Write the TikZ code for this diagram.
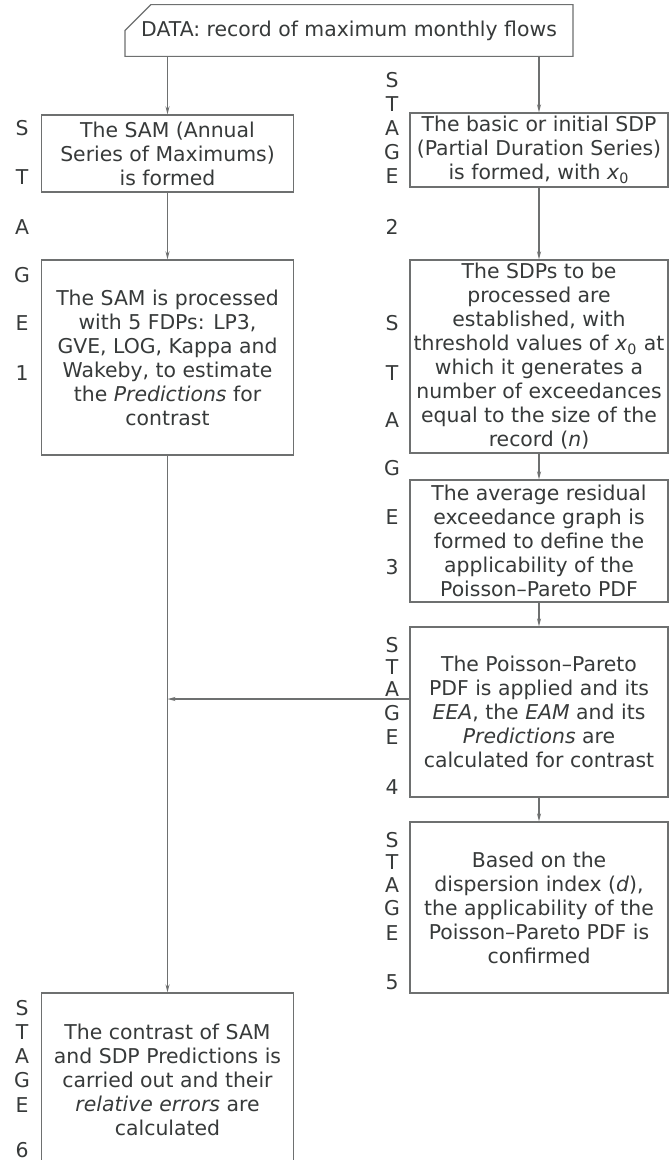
\documentclass[tikz,border=0pt]{standalone}
\usepackage{fontspec}
\setmainfont{DejaVu Sans}
\usetikzlibrary{shapes.misc,arrows.meta}
\definecolor{lineGray}{RGB}{110, 112, 112}
\definecolor{textGray}{RGB}{55, 58, 58}
\newcommand{\flowfont}{\fontsize{10.2}{12}\selectfont}

\begin{document}
\begin{tikzpicture}[x=0.5pt,y=-0.5pt,
    box/.style={draw=lineGray, line width=0.6pt, text=textGray, align=center,
      inner sep=0pt, font=\flowfont},
    stagelbl/.style={text=textGray, font=\flowfont, inner sep=0pt},
    conn/.style={draw=lineGray, line width=0.6pt, -{Stealth[length=4pt,width=2pt]}}]
      \clip (0,0) rectangle (670,1160);
      \fill[white] (0,0) rectangle (670,1160);

      % data record
      \node[box, chamfered rectangle, chamfered rectangle corners=north west,
        chamfered rectangle xsep=9pt, chamfered rectangle ysep=8pt,
        minimum width=224pt, minimum height=22.5pt] (data) at (349,30.5)
        {DATA: record of maximum monthly flows};

      % left column: annual series
      \node[box, minimum width=126pt, minimum height=38.5pt] (sam) at (167.5,153.5)
        {The SAM (Annual\\Series of Maximums)\\is formed};
      \node[box, minimum width=126pt, minimum height=97.5pt] (samproc) at (167.5,357.5)
        {The SAM is processed\\with 5 FDPs: LP3,\\GVE, LOG, Kappa and\\Wakeby, to estimate\\the \textit{Predictions} for\\contrast};
      \node[box, minimum width=126pt, minimum height=87pt] (contrast) at (167.5,1080)
        {The contrast of SAM\\and SDP Predictions is\\carried out and their\\\textit{relative errors} are\\calculated};

      % right column: partial duration series
      \node[box, minimum width=129pt, minimum height=37pt] (sdp) at (539,150)
        {The basic or initial SDP\\(Partial Duration Series)\\is formed, with \textit{x}\textsubscript{0}};
      \node[box, minimum width=129pt, minimum height=96.5pt] (sdps) at (539,356.5)
        {The SDPs to be\\processed are\\established, with\\threshold values of \textit{x}\textsubscript{0} at\\which it generates a\\number of exceedances\\equal to the size of the\\record (\textit{n})};
      \node[box, minimum width=129pt, minimum height=61pt] (resid) at (539,541)
        {The average residual\\exceedance graph is\\formed to define the\\applicability of the\\Poisson–Pareto PDF};
      \node[box, minimum width=129pt, minimum height=85pt] (poisson) at (539,712)
        {The Poisson–Pareto\\PDF is applied and its\\\textit{EEA}, the \textit{EAM} and its\\\textit{Predictions} are\\calculated for contrast};
      \node[box, minimum width=129pt, minimum height=85.5pt] (based) at (539,907.5)
        {Based on the\\dispersion index (\textit{d}),\\the applicability of the\\Poisson–Pareto PDF is\\confirmed};

      % stage labels
      \foreach \ch/\yy in {S/128, T/177, A/227, G/275, E/323, 1/373}
        \node[stagelbl] (stA-\yy) at (22,\yy) {\ch};
      \foreach \ch/\yy in {S/80, T/104, A/128, G/152, E/176, 2/227}
        \node[stagelbl] (stB-\yy) at (392,\yy) {\ch};
      \foreach \ch/\yy in {S/323, T/373, A/420, G/468, E/517, 3/567}
        \node[stagelbl] (stC-\yy) at (392,\yy) {\ch};
      \foreach \ch/\yy in {S/645, T/667, A/689, G/713, E/737, 4/787}
        \node[stagelbl] (stD-\yy) at (392,\yy) {\ch};
      \foreach \ch/\yy in {S/840, T/862, A/885, G/908, E/933, 5/982}
        \node[stagelbl] (stE-\yy) at (392,\yy) {\ch};
      \foreach \ch/\yy in {S/1008, T/1032, A/1056, G/1080, E/1105, 6/1150}
        \node[stagelbl] (stF-\yy) at (22,\yy) {\ch};

      % connectors
      \draw[conn] (data.south -| sam.north) -- (sam.north);
      \draw[conn] (data.south -| sdp.north) -- (sdp.north);
      \draw[conn] (sam) -- (samproc);
      \draw[conn] (samproc) -- (contrast);
      \draw[conn] (sdp) -- (sdps);
      \draw[conn] (sdps) -- (resid);
      \draw[conn] (resid) -- (poisson);
      \draw[conn] (poisson) -- (based);
      \draw[conn] ([yshift=6.5pt]poisson.west) -- ([yshift=6.5pt]poisson.west -| samproc.south);
    \end{tikzpicture}
\end{document}
